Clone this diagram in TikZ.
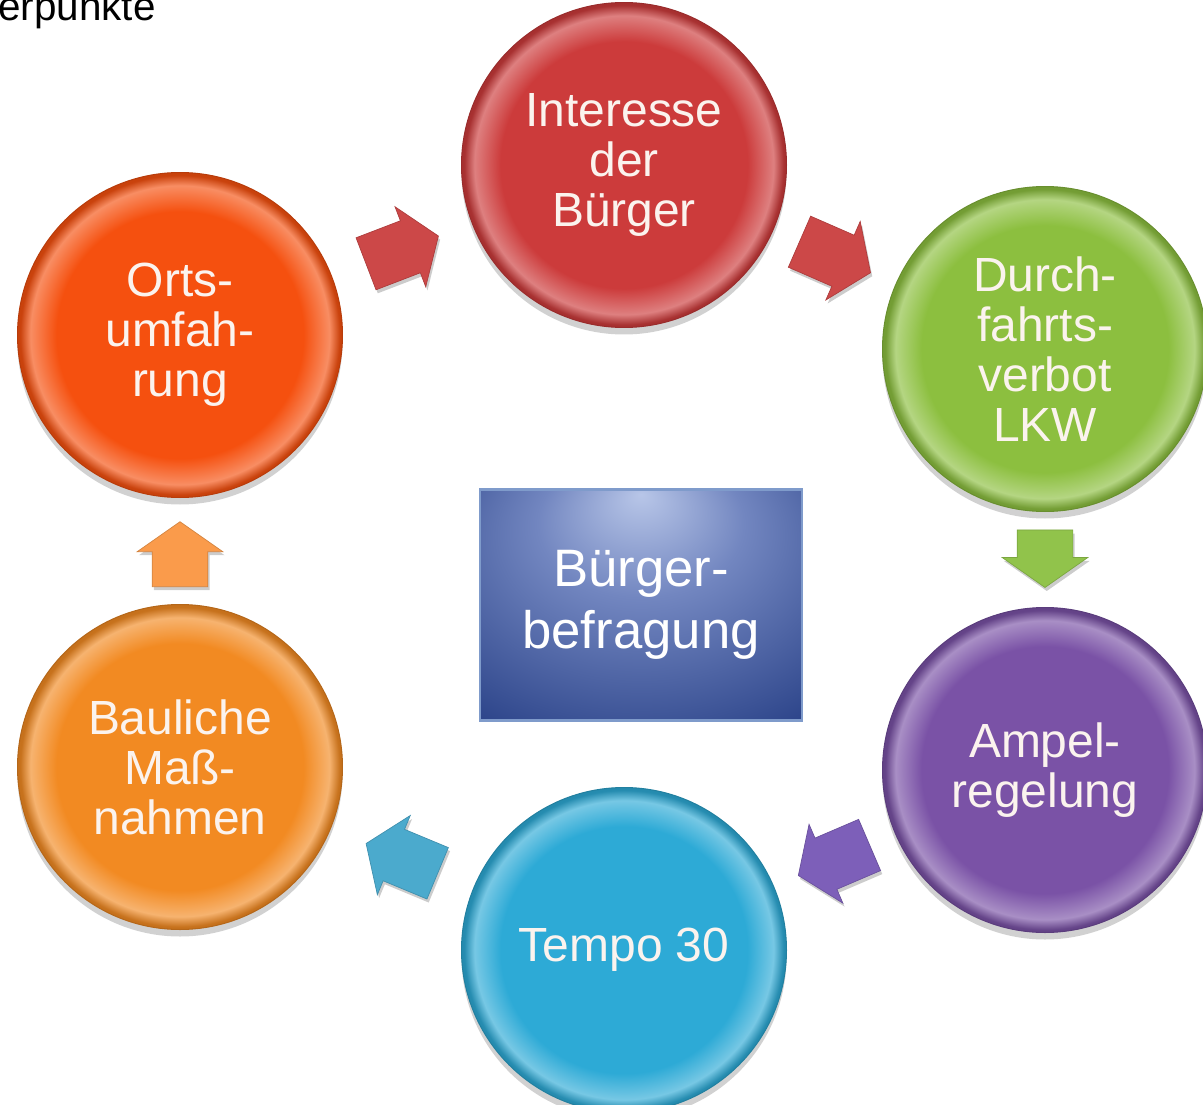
\documentclass[tikz,border=0pt]{standalone}
\usepackage{fontspec}
\setmainfont{Liberation Sans}
\usetikzlibrary{calc,shapes.arrows,shadows,positioning}

\definecolor{interessecol}{HTML}{CC3B3B}
\definecolor{durchcol}{HTML}{8CBF3F}
\definecolor{ampelcol}{HTML}{7A52A6}
\definecolor{tempocol}{HTML}{2DAAD6}
\definecolor{baucol}{HTML}{F28A22}
\definecolor{ortscol}{HTML}{F5500F}
\definecolor{arrred}{HTML}{CC4848}
\definecolor{arrgreen}{HTML}{91C34B}
\definecolor{arrpurple}{HTML}{7D5FB9}
\definecolor{arrblue}{HTML}{4BAACD}
\definecolor{arrorange}{HTML}{FA9B4B}
\definecolor{boxlight}{HTML}{B8C6E8}
\definecolor{boxmid}{HTML}{7286C0}
\definecolor{boxdark}{HTML}{2A4288}
\definecolor{boxdeep}{HTML}{16286A}
\definecolor{boxrim}{HTML}{7F9BCB}
\definecolor{textwhite}{HTML}{FBF3EE}
\colorlet{ringcol}{red}

% flat disc with a light rim
\pgfdeclareradialshading[ringcol]{ring}{\pgfpoint{0bp}{0bp}}{%
  color(0bp)=(ringcol); color(19bp)=(ringcol); color(23bp)=(ringcol!65!white);
  color(24.6bp)=(ringcol!82!black); color(50bp)=(ringcol!82!black)}
\pgfdeclareradialshading{boxglow}{\pgfpoint{0bp}{24bp}}{%
  color(0bp)=(boxlight); color(16bp)=(boxmid); color(42bp)=(boxdark); color(60bp)=(boxdeep)}

\begin{document}
\begin{tikzpicture}[
    x=0.02cm, y=-0.02cm,
    disc/.style={circle, minimum size=6.5cm, inner sep=0pt, align=center,
        /utils/exec={\colorlet{ringcol}{#1}}, shade, shading=ring,
        draw=#1!75!black, line width=0.6pt, text=textwhite,
        font=\fontsize{27.3}{28.5}\selectfont,
        drop shadow={shadow xshift=0pt, shadow yshift=-4pt, opacity=0.18, fill=black}},
    blockarrow/.style={single arrow, fill=#1, draw=#1!85!black, line width=0.4pt,
        inner xsep=0pt, inner ysep=0.55cm, minimum width=1.7cm,
        single arrow head extend=0.3cm, single arrow tip angle=110,
        drop shadow={shadow xshift=1pt, shadow yshift=-2pt, opacity=0.2, fill=black}}
]
    \useasboundingbox (0,0) rectangle (1203,1105);

    \node[anchor=base west, inner sep=0pt, font=\fontsize{23}{27}\selectfont] (titel) at (-2,21) {erpunkte};

    \node[disc=interessecol] (interesse) at (624,165) {Interesse\\der\\Bürger};
    \node[disc=durchcol] (durchfahrt) at (1045,349) {Durch-\\fahrts-\\verbot\\LKW};
    \node[disc=ampelcol] (ampel) at (1045,770) {Ampel-\\regelung};
    \node[disc=tempocol] (tempo) at (624,950) {Tempo 30};
    \node[disc=baucol] (bauliche) at (180,767) {Bauliche\\Maß-\\nahmen};
    \node[disc=ortscol] (ortsumfahrung) at (180,335) {Orts-\\umfah-\\rung};

    \node[rectangle, minimum width=6.44cm, minimum height=4.62cm, shade, shading=boxglow,
          draw=boxrim, line width=1.5pt, text=white, align=center,
          font=\fontsize{30}{35.5}\selectfont] (befragung) at (641,605) {Bürger-\\befragung};

    \foreach \from/\to/\col/\ang/\len/\pos in {ortsumfahrung/interesse/arrred/21/1.55cm/0.48,
        interesse/durchfahrt/arrred/-23.6/1.55cm/0.48, durchfahrt/ampel/arrgreen/-90/1.15cm/0.475,
        ampel/tempo/arrpurple/203.2/1.55cm/0.48, tempo/bauliche/arrblue/157.4/1.55cm/0.48,
        bauliche/ortsumfahrung/arrorange/90/1.3cm/0.47}
        \node[blockarrow=\col, minimum height=\len, rotate=\ang] (\from-\to) at ($(\from)!\pos!(\to)$) {};
\end{tikzpicture}
\end{document}
